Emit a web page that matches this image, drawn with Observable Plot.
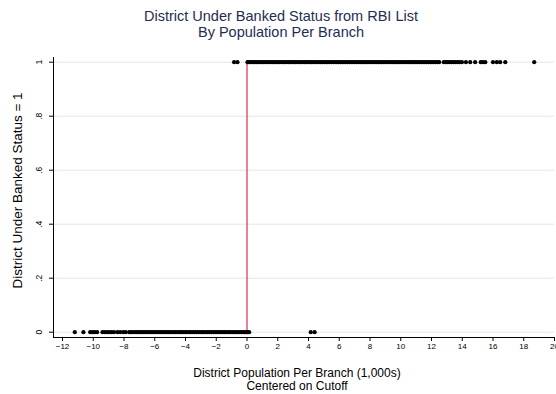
<!DOCTYPE html>
<html>
<head>
<meta charset="utf-8">
<script src="https://cdn.jsdelivr.net/npm/d3@7"></script>
<script src="https://cdn.jsdelivr.net/npm/@observablehq/plot@0.6"></script>
<style>
  body { margin: 0; background: #fff; font-family: "Liberation Sans", Arial, sans-serif; }
  #title {
    box-sizing: border-box; width: 556px; height: 42px; padding: 8px 0 0 6px;
    text-align: center; font-size: 14.5px; line-height: 16px; color: #1f2d52;
  }
  #chart { width: 556px; height: 320px; }
  #xlabel {
    box-sizing: border-box; width: 556px; padding: 5px 0 0 0; margin-left: 19px;
    text-align: center; font-size: 12px; line-height: 13px; color: #000;
  }
</style>
</head>
<body>
<div id="title">District Under Banked Status from RBI List<br>By Population Per Branch</div>
<div id="chart"></div>
<div id="xlabel">District Population Per Branch (1,000s)<br>Centered on Cutoff</div>
<script>
// Districts not under-banked (status = 0): centered population per branch, 1,000s
const notUnderBanked = [
  -11.2, -10.64, -10.2, -10.05, -9.9, -9.75, -9.4, -9.25, -9.1, -8.95, -8.8, -8.65,
  -8.43, -8.25, -8.05, -7.9,
  -7.67, -7.55, -7.44, -7.3, -7.18, -7.05, -6.94, -6.81, -6.7, -6.58, -6.45, -6.33,
  -6.2, -6.1, -5.97, -5.85, -5.72, -5.6, -5.49, -5.37, -5.24, -5.12, -5.0, -4.88,
  -4.75, -4.63, -4.5, -4.38, -4.27, -4.14, -4.02, -3.9, -3.77, -3.65, -3.52, -3.4,
  -3.29, -3.16, -3.04, -2.91, -2.8, -2.67, -2.55, -2.43, -2.3, -2.18, -2.06, -1.94,
  -1.82, -1.7, -1.58, -1.46, -1.33, -1.21, -1.1, -0.97, -0.85, -0.73, -0.61, -0.5,
  -0.38, -0.26, -0.15, -0.05, 0.05, 0.14,
  4.15, 4.4
];

// Districts listed as under-banked (status = 1)
const underBanked = [
  -0.84, -0.62,
  0.03, 0.14, 0.25, 0.37, 0.48, 0.6, 0.71, 0.83, 0.95, 1.06, 1.18, 1.3, 1.41, 1.53,
  1.64, 1.76, 1.88, 2.0, 2.11, 2.23, 2.35, 2.46, 2.58, 2.7, 2.81, 2.93, 3.05, 3.16,
  3.28, 3.4, 3.51, 3.63, 3.75, 3.86, 3.98, 4.1, 4.21, 4.33, 4.45, 4.56, 4.68, 4.8,
  4.91, 5.03, 5.15, 5.26, 5.38, 5.5, 5.61, 5.73, 5.85, 5.96, 6.08, 6.2, 6.31, 6.43,
  6.55, 6.66, 6.78, 6.9, 7.01, 7.13, 7.25, 7.36, 7.48, 7.6, 7.71, 7.83, 7.95, 8.06,
  8.18, 8.3, 8.41, 8.53, 8.65, 8.76, 8.88, 9.0, 9.11, 9.23, 9.35, 9.46, 9.58, 9.7,
  9.81, 9.93, 10.05, 10.16, 10.28, 10.4, 10.51, 10.63, 10.75, 10.86, 10.98, 11.1,
  11.21, 11.33, 11.45, 11.56, 11.68, 11.8, 11.91, 12.03, 12.15, 12.26, 12.38, 12.5,
  12.8, 12.92, 13.05, 13.18, 13.3, 13.42, 13.55, 13.68, 13.82, 13.98,
  14.24, 14.52, 14.84, 15.2, 15.35, 15.5, 16.0, 16.25, 16.47, 16.8, 18.68
];

const cutoff = [0];
const xTicks = [-12, -10, -8, -6, -4, -2, 0, 2, 4, 6, 8, 10, 12, 14, 16, 18, 20];
const yTicks = [0, 0.2, 0.4, 0.6, 0.8, 1];
const yTickLabels = ["0", ".2", ".4", ".6", ".8", "1"];
const yLabel = "District Under Banked Status = 1";

const points = [
  ...notUnderBanked.map(x => ({x, status: 0})),
  ...underBanked.map(x => ({x, status: 1}))
];
const yFmt = new Map(yTicks.map((t, i) => [t, yTickLabels[i]]));

const chart = Plot.plot({
  width: 556,
  height: 320,
  marginLeft: 53,
  marginRight: 2,
  marginTop: 15,
  marginBottom: 25,
  x: {domain: [-12, 20], insetLeft: 9},
  y: {domain: [0, 1], insetTop: 4.7, insetBottom: 5.3},
  style: {fontFamily: "'Liberation Sans', Arial, sans-serif", fontSize: "8px", color: "#000", overflow: "visible"},
  marks: [
    Plot.gridY(yTicks, {stroke: "#dde8eb", strokeOpacity: 1, strokeWidth: 1}),
    Plot.axisY(yTicks, {tickSize: 4, tickPadding: 8, tickRotate: -90, fontSize: 8.5, tickFormat: d => yFmt.get(d), label: null}),
    Plot.axisX(xTicks, {tickSize: 4, tickPadding: 2, label: null}),
    Plot.frame({anchor: "left"}),
    Plot.frame({anchor: "bottom"}),
    Plot.text([yLabel], {frameAnchor: "left", textAnchor: "middle", text: d => d, rotate: -90, dx: -36, dy: -7, fontSize: 13.5}),
    Plot.ruleX(cutoff, {y1: 0, y2: 1, stroke: "#d7304e", strokeWidth: 1.2}),
    Plot.dot(points, {x: "x", y: "status", r: 2.1, fill: "#000", stroke: null})
  ]
});
document.getElementById("chart").appendChild(chart);
</script>
</body>
</html>
